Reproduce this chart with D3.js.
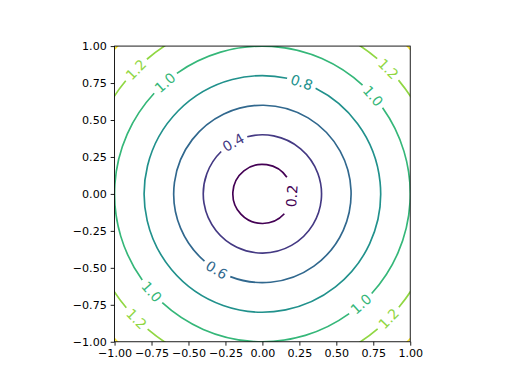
<!DOCTYPE html>
<html>
<head>
<meta charset="utf-8">
<script src="https://cdn.jsdelivr.net/npm/d3@7"></script>
<style>
  body { margin: 0; background: #fff; }
  svg { display: block; font-family: "DejaVu Sans", sans-serif; }
</style>
</head>
<body>
<div id="chart"></div>
<script>
// contour levels of r = sqrt(x^2 + y^2)
const levels = [0.2, 0.4, 0.6, 0.8, 1.0, 1.2, 1.4];
// inline labels: level and angle (degrees, counter-clockwise) where it sits
const labelLevels = [0.2, 0.4, 0.6, 0.8, 1.0, 1.0, 1.0, 1.0, 1.2, 1.2, 1.2, 1.2];
const labelAngles = [-4, 119.5, -121, 70.6, 131.2, 41.5, -138.5, -48.2, 135.5, 44.8, -135.2, -44.6];
const ticks = [-1, -0.75, -0.5, -0.25, 0, 0.25, 0.5, 0.75, 1];

const width = 512, height = 384;
const svg = d3.select('#chart').append('svg')
    .attr('width', width)
    .attr('height', height);

// axes box (square aspect, centred in the default subplot area)
const x = d3.scaleLinear().domain([-1, 1]).range([114.56, 410.24]);
const y = d3.scaleLinear().domain([-1, 1]).range([341.76, 46.08]);

const color = d3.scaleSequential(d3.interpolateViridis)
    .domain([d3.min(levels), d3.max(levels)]);

svg.append('clipPath').attr('id', 'clip')
    .append('rect')
    .attr('x', x(-1)).attr('y', y(1))
    .attr('width', x(1) - x(-1)).attr('height', y(-1) - y(1));

const lineG = svg.append('g').attr('clip-path', 'url(#clip)');
const labelG = svg.append('g');

const cx = x(0), cy = y(0);
const fmtLabel = d3.format('.1f');

// labels first, so their widths give the gaps in the lines
const labels = labelLevels.map((lv, i) => {
    const th = labelAngles[i] * Math.PI / 180;
    let rot = labelAngles[i] - 90;
    if (rot <= -90) rot += 180;
    if (rot > 90) rot -= 180;
    const t = labelG.append('text')
        .attr('transform', `translate(${x(lv * Math.cos(th))},${y(lv * Math.sin(th))}) rotate(${-rot})`)
        .attr('text-anchor', 'middle')
        .attr('dominant-baseline', 'central')
        .attr('font-size', 14)
        .attr('fill', color(lv))
        .text(fmtLabel(lv));
    const w = t.node().getComputedTextLength();
    return { level: lv, angle: th, half: w / 2 + 4 };
});

levels.forEach(lv => {
    const r = x(lv) - x(0);
    const gaps = labels.filter(d => d.level === lv)
        .map(d => {
            let h = d.half / r;
            if (r < 40) h *= 1.3;
            return [d.angle - h, d.angle + h];
        })
        .sort((a, b) => a[0] - b[0]);
    const p = d3.path();
    if (gaps.length === 0) {
        p.arc(cx, cy, r, 0, 2 * Math.PI);
    } else {
        gaps.forEach((g, i) => {
            const next = gaps[(i + 1) % gaps.length];
            let end = next[0];
            if (i === gaps.length - 1) end += 2 * Math.PI;
            const a0 = g[1], a1 = end;
            p.moveTo(cx + r * Math.cos(a0), cy - r * Math.sin(a0));
            p.arc(cx, cy, r, -a0, -a1, true);
        });
    }
    lineG.append('path')
        .attr('d', p.toString())
        .attr('fill', 'none')
        .attr('stroke', color(lv))
        .attr('stroke-width', 1.67);
});

// axes
const fmtTick = v => d3.format('.2f')(v).replace('-', '\u2212');
const xAxis = d3.axisBottom(x).tickValues(ticks).tickFormat(fmtTick)
    .tickSizeInner(3.9).tickSizeOuter(0).tickPadding(3.9);
const yAxis = d3.axisLeft(y).tickValues(ticks).tickFormat(fmtTick)
    .tickSizeInner(3.9).tickSizeOuter(0).tickPadding(3.9);

const gx = svg.append('g').attr('transform', `translate(0,${y(-1)})`).call(xAxis);
const gy = svg.append('g').attr('transform', `translate(${x(-1)},0)`).call(yAxis);
[gx, gy].forEach(g => {
    g.select('.domain').remove();
    g.selectAll('line').attr('stroke', '#000').attr('stroke-width', 0.89);
    g.selectAll('text').attr('font-size', 11.1).attr('fill', '#000')
        .attr('font-family', '"DejaVu Sans", sans-serif');
});

svg.append('rect')
    .attr('x', x(-1)).attr('y', y(1))
    .attr('width', x(1) - x(-1)).attr('height', y(-1) - y(1))
    .attr('fill', 'none')
    .attr('stroke', '#000')
    .attr('stroke-width', 0.89);
</script>
</body>
</html>
